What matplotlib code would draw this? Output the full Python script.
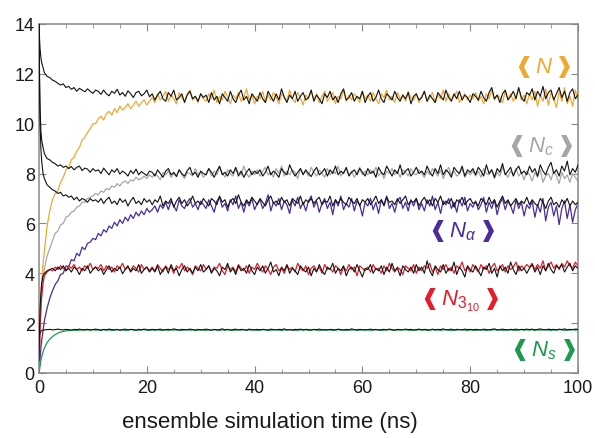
import numpy as np
import matplotlib
matplotlib.use("Agg")
import matplotlib.pyplot as plt
from matplotlib.ticker import MultipleLocator

# ---------------- data ----------------
T_EARLY = [0.0, 0.1, 0.2, 0.35, 0.5, 0.75]
T = np.concatenate([T_EARLY, np.arange(1.0, 100.51, 0.5)])  # sampling times (ns)

N_BLACK = [14.0, 13.4, 13.0, 12.65, 12.45, 12.25,
    12.05, 11.9, 11.85, 11.75, 11.7, 11.62, 11.55, 11.6, 11.45, 11.5, 11.38, 11.45, 11.3, 11.42, 11.35, 11.28, 11.4, 11.3, 11.22, 11.35,
    11.3, 11.18, 11.35, 11.2, 11.12, 11.3, 11.22, 11.38, 11.15, 11.25, 11.1, 11.32, 11.2, 11.05, 11.25, 11.3, 11.12, 11.2, 11.35, 11.08,
    11.2, 10.95, 11.15, 11.3, 11.0, 10.9, 11.25, 11.1, 11.35, 10.95, 11.05, 11.2, 10.85, 11.15, 11.3, 11.0, 11.1, 10.9, 11.2, 11.05,
    11.15, 10.85, 11.25, 10.95, 11.1, 10.8, 11.2, 11.05, 10.9, 11.3, 11.0, 10.85, 11.15, 11.35, 10.95, 11.1, 10.8, 11.2, 11.05, 10.9,
    11.25, 11.0, 10.85, 11.3, 11.1, 10.9, 11.2, 10.95, 11.4, 11.05, 10.85, 11.15, 11.0, 11.3, 10.9, 11.1, 11.25, 10.95, 11.05, 11.35,
    10.9, 11.15, 11.0, 10.8, 11.2, 11.05, 11.3, 10.95, 11.1, 10.85, 11.2, 11.4, 10.95, 11.05, 11.25, 10.9, 11.1, 11.0, 11.3, 10.85,
    11.1, 11.25, 10.9, 11.05, 11.35, 11.0, 10.85, 11.2, 11.1, 10.95, 11.3, 11.05, 10.9, 11.15, 11.0, 11.25, 10.8, 11.1, 11.2, 10.95,
    11.05, 11.3, 10.9, 11.15, 11.0, 10.85, 11.25, 11.1, 10.95, 11.35, 11.05, 10.9, 11.2, 11.0, 11.3, 10.95, 11.15, 11.05, 10.85, 11.2,
    11.1, 10.95, 11.3, 11.05, 10.9, 11.25, 11.45, 11.0, 11.15, 10.85, 11.2, 11.35, 10.95, 11.1, 11.3, 11.0, 11.45, 11.05, 10.9, 11.25,
    11.15, 11.4, 10.95, 11.3, 11.1, 11.5, 11.0, 11.25, 11.35, 10.95, 11.2, 11.45, 11.05, 11.3, 10.9, 11.25, 11.4, 11.0, 11.15, 11.3]

N_COLOR = [0.0, 1.0, 2.0, 3.0, 3.7, 4.4,
    4.9, 5.9, 6.5, 6.95, 7.2, 7.3, 7.65, 7.85, 8.15, 8.25, 8.55, 8.65, 8.9, 9.05, 9.35, 9.45, 9.65, 9.8, 10.0, 10.0,
    10.2, 10.3, 10.15, 10.4, 10.5, 10.35, 10.6, 10.45, 10.7, 10.55, 10.65, 10.8, 10.6, 10.75, 10.9, 10.7, 10.85, 10.95, 10.75, 10.9,
    11.05, 10.85, 11.2, 10.95, 11.1, 11.3, 10.9, 11.15, 11.0, 10.8, 11.25, 11.05, 10.9, 11.2, 11.35, 10.95, 11.1, 10.85, 11.2, 11.0,
    10.9, 11.2, 11.0, 11.35, 10.85, 11.1, 10.95, 11.3, 11.05, 10.8, 11.15, 11.0, 11.25, 10.9, 11.05, 11.4, 10.95, 11.15, 10.8, 11.1,
    11.0, 11.3, 10.85, 11.15, 10.95, 11.25, 11.05, 10.8, 11.2, 11.1, 10.9, 11.35, 11.0, 10.85, 11.25, 11.05, 10.75, 11.15, 11.0, 11.3,
    10.95, 11.2, 10.85, 11.1, 11.3, 10.9, 11.05, 11.25, 10.8, 11.1, 11.0, 11.35, 10.9, 11.15, 10.95, 11.2, 11.05, 10.85, 11.3, 11.0,
    11.15, 10.9, 11.25, 11.0, 10.8, 11.2, 11.05, 11.35, 10.95, 11.1, 10.85, 11.25, 11.0, 11.15, 10.9, 11.3, 11.05, 10.95, 11.2, 10.85,
    11.1, 11.3, 10.9, 11.05, 11.25, 10.85, 11.15, 11.0, 11.35, 10.9, 11.2, 10.95, 11.1, 11.3, 10.85, 11.05, 11.2, 10.95, 11.15, 11.0,
    11.25, 10.9, 11.1, 10.8, 11.2, 11.0, 11.35, 10.95, 11.15, 11.05, 10.85, 11.3, 11.0, 11.2, 10.9, 11.1, 11.4, 10.95, 11.15, 10.8,
    11.2, 10.95, 11.3, 10.7, 11.15, 10.9, 11.4, 10.75, 11.25, 11.0, 10.65, 11.3, 10.9, 11.45, 10.8, 11.1, 10.7, 11.35, 10.95, 11.2]

NC_BLACK = [14.0, 12.0, 10.6, 9.7, 9.35, 9.05,
    8.8, 8.6, 8.55, 8.45, 8.4, 8.3, 8.35, 8.25, 8.3, 8.2, 8.28, 8.15, 8.25, 8.3, 8.12, 8.22, 8.18, 8.05, 8.2, 8.1,
    8.15, 8.0, 8.22, 8.08, 7.95, 8.15, 8.05, 8.2, 7.98, 8.1, 8.02, 7.9, 8.12, 8.0, 8.18, 7.95, 8.08, 8.0, 7.92, 8.1,
    8.05, 7.9, 8.15, 8.0, 7.85, 8.1, 8.2, 7.95, 8.05, 7.88, 8.15, 8.0, 7.9, 8.12, 8.25, 7.95, 8.05, 7.85, 8.1, 8.0,
    7.95, 8.2, 8.05, 7.85, 8.1, 8.3, 7.95, 8.05, 7.9, 8.15, 8.0, 8.25, 7.9, 8.1, 7.85, 8.05, 8.2, 7.95, 8.1, 8.0,
    8.15, 7.9, 8.05, 8.3, 7.95, 8.1, 8.0, 7.85, 8.2, 8.05, 7.95, 8.35, 8.1, 7.9, 8.05, 8.2, 7.95, 8.15, 8.0, 7.88,
    8.1, 8.25, 7.95, 8.05, 8.2, 7.9, 8.15, 8.0, 8.3, 7.95, 8.1, 8.0, 8.25, 7.9, 8.05, 8.15, 7.95, 8.2, 8.05, 7.9,
    8.2, 8.0, 8.1, 7.85, 8.25, 8.05, 7.95, 8.3, 8.1, 7.9, 8.15, 8.0, 8.35, 7.95, 8.1, 8.2, 7.9, 8.05, 8.25, 8.0,
    8.1, 7.95, 8.3, 8.05, 7.9, 8.2, 8.0, 8.35, 7.95, 8.15, 8.05, 7.85, 8.25, 8.1, 8.0, 8.3, 7.9, 8.15, 8.05, 8.2,
    7.95, 8.25, 8.1, 7.9, 8.35, 8.0, 8.15, 7.85, 8.2, 8.05, 8.4, 7.95, 8.1, 8.25, 7.9, 8.15, 8.3, 8.0, 8.1, 7.95,
    8.3, 8.05, 8.2, 7.9, 8.35, 8.1, 7.95, 8.25, 8.45, 8.0, 8.15, 7.9, 8.3, 8.1, 8.5, 7.95, 8.2, 8.05, 8.35, 8.1]

NC_COLOR = [0.0, 1.0, 1.8, 2.6, 3.1, 3.7,
    4.2, 4.7, 5.0, 5.3, 5.6, 5.7, 5.95, 6.0, 6.25, 6.3, 6.45, 6.5, 6.65, 6.7, 6.85, 6.85, 7.0, 7.05, 7.1, 7.2,
    7.15, 7.3, 7.25, 7.4, 7.35, 7.5, 7.45, 7.6, 7.5, 7.65, 7.7, 7.6, 7.75, 7.7, 7.85, 7.75, 7.8, 7.9, 7.8, 7.95,
    7.85, 8.0, 7.9, 7.75, 8.05, 7.95, 8.1, 7.85, 8.0, 7.9, 8.15, 7.95, 7.8, 8.05, 8.0, 7.9, 8.2, 7.95, 8.05, 7.85,
    8.0, 8.2, 7.9, 8.1, 7.95, 8.25, 8.05, 7.85, 8.15, 8.0, 7.9, 8.2, 8.05, 7.95, 8.3, 8.0, 7.85, 8.1, 7.95, 8.15,
    7.9, 8.1, 8.25, 7.95, 8.05, 7.85, 8.2, 8.0, 8.3, 7.9, 8.1, 7.95, 8.15, 8.05, 7.8, 8.2, 8.0, 8.1, 7.9, 8.25,
    8.05, 7.9, 8.15, 8.0, 7.85, 8.2, 7.95, 8.1, 8.0, 8.3, 7.9, 8.05, 8.2, 7.95, 8.1, 7.85, 8.05, 8.25, 7.95, 8.1,
    7.95, 8.15, 8.0, 8.25, 7.9, 8.05, 7.8, 8.1, 8.0, 8.2, 7.95, 8.1, 7.85, 8.15, 8.05, 7.9, 8.2, 8.0, 7.95, 8.15,
    8.0, 7.85, 8.1, 7.95, 8.2, 8.05, 7.9, 8.15, 7.8, 8.05, 8.25, 7.95, 8.1, 7.9, 8.0, 8.2, 7.85, 8.05, 7.95, 8.1,
    7.9, 8.1, 7.85, 8.2, 8.0, 7.95, 8.15, 7.8, 8.05, 7.9, 8.25, 8.0, 7.85, 8.1, 7.95, 8.2, 7.9, 8.05, 7.75, 8.1,
    7.95, 7.7, 8.05, 7.85, 8.15, 7.65, 7.9, 8.0, 7.75, 8.1, 7.9, 7.6, 8.05, 7.8, 7.95, 7.65, 8.0, 7.85, 7.7, 7.95]

NA_BLACK = [14.0, 11.5, 10.0, 9.0, 8.5, 8.0,
    7.8, 7.55, 7.45, 7.35, 7.3, 7.2, 7.25, 7.1, 7.15, 7.05, 7.1, 6.95, 7.05, 6.9, 7.0, 6.95, 6.85, 7.0, 6.9, 6.95,
    6.85, 7.0, 6.8, 6.95, 7.05, 6.8, 6.9, 6.75, 7.0, 6.85, 6.95, 6.7, 6.9, 7.05, 6.8, 6.9, 6.75, 7.0, 6.85, 6.95,
    6.75, 6.95, 6.85, 7.1, 6.7, 6.9, 6.8, 7.0, 6.65, 6.9, 7.05, 6.8, 6.95, 6.7, 6.85, 7.1, 6.8, 6.9, 6.75, 7.0,
    6.85, 6.7, 7.0, 6.9, 6.75, 7.1, 6.85, 6.95, 6.65, 6.9, 7.0, 6.8, 7.15, 6.85, 6.7, 6.95, 6.8, 7.05, 6.9, 6.75,
    7.0, 6.85, 6.7, 6.95, 7.1, 6.8, 6.9, 6.75, 7.05, 6.85, 6.95, 6.7, 7.0, 6.9, 6.8, 7.1, 6.75, 6.95, 6.85, 7.0,
    6.8, 6.95, 7.05, 6.75, 6.9, 6.85, 7.1, 6.7, 6.95, 6.8, 7.0, 6.85, 6.75, 7.05, 6.9, 6.8, 7.0, 6.7, 6.95, 6.85,
    7.0, 6.75, 6.9, 7.1, 6.8, 6.95, 6.7, 7.05, 6.85, 6.9, 6.75, 7.0, 6.8, 6.95, 7.1, 6.75, 6.9, 6.85, 7.0, 6.7,
    6.9, 7.05, 6.8, 6.95, 6.7, 7.0, 6.85, 7.1, 6.75, 6.9, 6.8, 7.0, 6.65, 6.95, 6.85, 7.05, 6.75, 6.9, 7.0, 6.8,
    6.85, 6.7, 7.0, 6.9, 6.75, 7.05, 6.8, 6.95, 6.65, 6.9, 7.1, 6.8, 6.95, 6.7, 6.85, 7.0, 6.75, 6.9, 6.8, 7.05,
    6.75, 6.95, 6.8, 6.7, 7.0, 6.85, 6.6, 6.9, 7.05, 6.75, 6.85, 6.65, 6.95, 6.8, 7.0, 6.7, 6.9, 6.75, 6.85, 6.95]

NA_COLOR = [0.0, 0.3, 0.6, 1.0, 1.3, 1.7,
    2.1, 2.6, 3.0, 3.3, 3.55, 3.7, 3.95, 4.0, 4.3, 4.25, 4.55, 4.5, 4.8, 4.7, 5.05, 4.95, 5.2, 5.25, 5.4, 5.35,
    5.6, 5.5, 5.75, 5.65, 5.9, 5.8, 6.05, 5.9, 6.15, 6.0, 6.25, 6.1, 6.35, 6.2, 6.45, 6.3, 6.5, 6.35, 6.6, 6.45,
    6.55, 6.7, 6.45, 6.75, 6.6, 6.85, 6.55, 6.9, 6.7, 6.5, 6.95, 6.7, 6.6, 6.85, 7.0, 6.65, 6.8, 6.55, 6.9, 6.75,
    6.6, 6.95, 6.7, 6.45, 6.9, 7.05, 6.65, 6.8, 6.5, 6.95, 6.75, 7.1, 6.6, 6.85, 6.45, 6.9, 6.7, 7.0, 6.55, 6.8,
    6.95, 6.6, 6.8, 7.15, 6.5, 6.85, 6.7, 7.0, 6.55, 6.9, 6.75, 6.4, 6.95, 6.7, 7.05, 6.6, 6.85, 6.5, 6.9, 7.1,
    6.65, 6.9, 6.45, 6.8, 7.0, 6.6, 6.85, 6.35, 6.95, 6.7, 7.1, 6.55, 6.8, 6.65, 7.0, 6.5, 6.9, 6.75, 6.3, 6.85,
    6.7, 7.0, 6.55, 6.85, 6.4, 6.95, 6.75, 7.1, 6.6, 6.8, 6.45, 6.9, 7.05, 6.6, 6.85, 6.5, 6.95, 6.7, 7.0, 6.55,
    6.8, 6.5, 6.95, 6.7, 7.1, 6.55, 6.85, 6.4, 6.9, 6.75, 7.0, 6.6, 6.85, 6.45, 6.95, 6.7, 7.05, 6.5, 6.8, 6.65,
    6.9, 6.55, 6.75, 7.05, 6.45, 6.85, 6.6, 6.95, 6.35, 6.8, 7.0, 6.55, 6.9, 6.7, 6.4, 6.95, 6.6, 6.85, 6.3, 6.75,
    6.6, 6.9, 6.25, 6.75, 6.45, 7.0, 6.1, 6.65, 6.85, 6.3, 6.7, 5.95, 6.6, 6.9, 6.2, 6.75, 6.05, 6.55, 6.8, 6.35]

N310_BLACK = [0.5, 1.8, 2.6, 3.2, 3.6, 3.9,
    4.0, 4.1, 4.15, 4.2, 4.1, 4.25, 4.15, 4.3, 4.1, 4.2, 4.05, 4.25, 4.15, 3.95, 4.2, 4.1, 4.3, 4.0, 4.15, 4.25,
    4.1, 4.2, 3.95, 4.15, 4.3, 4.05, 4.2, 4.1, 4.25, 3.98, 4.15, 4.3, 4.05, 4.2, 4.1, 4.35, 4.0, 4.15, 4.25, 4.05,
    4.2, 4.05, 4.3, 3.95, 4.15, 4.25, 4.0, 4.35, 4.1, 4.2, 3.9, 4.15, 4.3, 4.05, 4.2, 4.0, 4.25, 4.1, 4.35, 4.05,
    4.15, 4.3, 4.0, 4.2, 4.1, 3.9, 4.25, 4.15, 4.4, 4.05, 4.2, 3.95, 4.3, 4.1, 4.2, 4.0, 4.35, 4.1, 3.95, 4.25,
    4.1, 4.3, 4.0, 4.2, 4.45, 4.05, 4.15, 3.9, 4.25, 4.1, 4.35, 4.0, 4.2, 4.1, 3.95, 4.3, 4.15, 4.05, 4.25, 3.9,
    4.2, 4.05, 4.35, 4.1, 3.95, 4.25, 4.15, 4.4, 4.0, 4.2, 4.1, 4.3, 3.9, 4.15, 4.25, 4.05, 4.35, 4.1, 3.85, 4.2,
    4.15, 4.35, 4.0, 4.2, 4.1, 4.3, 3.95, 4.25, 4.05, 4.4, 4.1, 4.2, 3.9, 4.3, 4.15, 4.05, 4.25, 4.0, 4.35, 4.1,
    4.25, 4.0, 4.5, 4.1, 3.9, 4.3, 4.15, 4.05, 4.35, 4.0, 4.2, 4.1, 4.45, 3.95, 4.25, 4.1, 3.85, 4.3, 4.15, 4.05,
    4.3, 4.1, 3.9, 4.25, 4.15, 4.4, 4.0, 4.2, 3.85, 4.3, 4.1, 4.25, 4.0, 4.45, 4.15, 3.95, 4.3, 4.1, 4.2, 4.0,
    4.2, 4.35, 4.05, 4.25, 3.95, 4.3, 4.1, 4.4, 4.15, 4.0, 4.3, 4.2, 4.35, 4.05, 4.25, 4.4, 4.1, 4.3, 4.2, 4.35]

N310_COLOR = [0.0, 1.0, 1.8, 2.6, 3.1, 3.6,
    3.9, 4.05, 4.15, 4.1, 4.25, 4.15, 4.3, 4.2, 4.1, 4.3, 4.2, 4.35, 4.15, 4.25, 4.1, 4.3, 4.2, 4.4, 4.15, 4.25,
    4.2, 4.35, 4.1, 4.3, 4.15, 4.25, 4.05, 4.3, 4.2, 4.4, 4.15, 4.25, 4.1, 4.3, 4.2, 4.05, 4.35, 4.15, 4.25, 4.1,
    4.25, 4.1, 4.35, 4.2, 4.05, 4.3, 4.15, 4.25, 4.0, 4.3, 4.2, 4.4, 4.1, 4.25, 4.15, 3.95, 4.3, 4.2, 4.1, 4.35,
    4.15, 4.3, 4.05, 4.25, 4.2, 4.4, 4.1, 3.95, 4.3, 4.15, 4.25, 4.05, 4.35, 4.2, 4.1, 4.3, 4.0, 4.25, 4.15, 4.4,
    4.2, 4.05, 4.3, 4.15, 3.95, 4.25, 4.35, 4.1, 4.2, 4.0, 4.3, 4.15, 4.25, 4.05, 4.4, 4.2, 4.1, 4.3, 3.95, 4.2,
    4.3, 4.1, 4.25, 4.0, 4.35, 4.15, 4.2, 4.05, 4.3, 4.2, 3.95, 4.25, 4.1, 4.35, 4.15, 4.25, 3.9, 4.3, 4.2, 4.1,
    4.25, 4.05, 4.35, 4.15, 4.2, 4.0, 4.3, 4.1, 4.4, 4.2, 4.05, 4.25, 4.15, 3.95, 4.3, 4.2, 4.1, 4.35, 4.0, 4.25,
    4.1, 4.3, 4.2, 4.4, 4.05, 4.25, 3.95, 4.3, 4.15, 4.35, 4.1, 4.25, 4.0, 4.3, 4.2, 4.45, 4.1, 4.25, 4.05, 4.35,
    4.2, 4.05, 4.35, 4.15, 4.3, 4.0, 4.25, 4.4, 4.1, 4.2, 4.35, 4.05, 4.3, 4.15, 4.25, 4.45, 4.1, 4.3, 4.2, 4.35,
    4.25, 4.4, 4.15, 4.35, 4.2, 4.5, 4.1, 4.3, 4.45, 4.2, 4.35, 4.15, 4.4, 4.25, 4.5, 4.3, 4.2, 4.45, 4.3, 4.4]

NS_BLACK = [1.45, 1.55, 1.62, 1.67, 1.7, 1.72,
    1.73, 1.74, 1.75, 1.73, 1.74, 1.76, 1.74, 1.73, 1.75, 1.74, 1.72, 1.75, 1.74, 1.76, 1.73, 1.74, 1.75, 1.73, 1.74, 1.76,
    1.74, 1.72, 1.75, 1.73, 1.76, 1.74, 1.73, 1.75, 1.72, 1.74, 1.76, 1.73, 1.75, 1.74, 1.72, 1.75, 1.73, 1.76, 1.74, 1.73,
    1.75, 1.73, 1.74, 1.76, 1.72, 1.74, 1.75, 1.73, 1.77, 1.74, 1.72, 1.75, 1.74, 1.73, 1.76, 1.74, 1.72, 1.75, 1.73, 1.74,
    1.76, 1.74, 1.72, 1.75, 1.73, 1.74, 1.77, 1.73, 1.75, 1.72, 1.74, 1.76, 1.73, 1.75, 1.74, 1.72, 1.76, 1.74, 1.73, 1.75,
    1.73, 1.75, 1.74, 1.72, 1.76, 1.74, 1.73, 1.75, 1.74, 1.77, 1.73, 1.74, 1.72, 1.75, 1.74, 1.76, 1.73, 1.75, 1.74, 1.72,
    1.75, 1.74, 1.76, 1.73, 1.74, 1.72, 1.75, 1.74, 1.73, 1.76, 1.74, 1.72, 1.75, 1.73, 1.77, 1.74, 1.73, 1.75, 1.74, 1.73,
    1.74, 1.76, 1.73, 1.75, 1.72, 1.74, 1.75, 1.73, 1.76, 1.74, 1.72, 1.75, 1.74, 1.73, 1.76, 1.74, 1.75, 1.72, 1.74, 1.76,
    1.73, 1.75, 1.74, 1.72, 1.76, 1.73, 1.75, 1.74, 1.77, 1.73, 1.74, 1.76, 1.72, 1.75, 1.74, 1.73, 1.76, 1.74, 1.75, 1.73,
    1.75, 1.74, 1.72, 1.76, 1.74, 1.73, 1.75, 1.77, 1.73, 1.74, 1.76, 1.74, 1.72, 1.75, 1.74, 1.76, 1.73, 1.75, 1.74, 1.76,
    1.74, 1.76, 1.73, 1.75, 1.77, 1.74, 1.73, 1.76, 1.74, 1.75, 1.73, 1.76, 1.74, 1.77, 1.73, 1.75, 1.74, 1.76, 1.75, 1.74]

NS_COLOR = [0.0, 0.15, 0.3, 0.5, 0.65, 0.85,
    1.0, 1.22, 1.36, 1.46, 1.54, 1.6, 1.64, 1.67, 1.69, 1.7, 1.71, 1.72, 1.71, 1.72, 1.73, 1.72, 1.73, 1.72, 1.74, 1.72,
    1.73, 1.71, 1.74, 1.72, 1.73, 1.71, 1.72, 1.74, 1.72, 1.73, 1.71, 1.72, 1.74, 1.73, 1.71, 1.72, 1.73, 1.74, 1.72, 1.71,
    1.73, 1.72, 1.74, 1.71, 1.72, 1.73, 1.71, 1.74, 1.72, 1.73, 1.72, 1.71, 1.73, 1.74, 1.72, 1.73, 1.71, 1.72, 1.74, 1.72,
    1.71, 1.73, 1.72, 1.74, 1.72, 1.71, 1.73, 1.72, 1.74, 1.73, 1.71, 1.72, 1.73, 1.72, 1.74, 1.71, 1.73, 1.72, 1.73, 1.71,
    1.72, 1.74, 1.73, 1.71, 1.72, 1.73, 1.74, 1.72, 1.71, 1.73, 1.72, 1.74, 1.73, 1.71, 1.72, 1.73, 1.72, 1.74, 1.71, 1.73,
    1.74, 1.72, 1.71, 1.73, 1.72, 1.74, 1.73, 1.71, 1.72, 1.74, 1.72, 1.73, 1.71, 1.73, 1.72, 1.74, 1.71, 1.72, 1.73, 1.72,
    1.73, 1.71, 1.72, 1.74, 1.73, 1.71, 1.72, 1.73, 1.74, 1.72, 1.71, 1.73, 1.72, 1.74, 1.73, 1.72, 1.71, 1.73, 1.72, 1.74,
    1.72, 1.73, 1.71, 1.72, 1.74, 1.72, 1.73, 1.71, 1.73, 1.74, 1.72, 1.71, 1.73, 1.72, 1.74, 1.73, 1.72, 1.71, 1.73, 1.72,
    1.71, 1.73, 1.74, 1.72, 1.71, 1.73, 1.72, 1.74, 1.72, 1.73, 1.71, 1.72, 1.74, 1.73, 1.72, 1.71, 1.73, 1.74, 1.72, 1.73,
    1.72, 1.74, 1.71, 1.73, 1.72, 1.73, 1.74, 1.72, 1.71, 1.73, 1.72, 1.74, 1.73, 1.71, 1.73, 1.72, 1.74, 1.72, 1.73, 1.72]

SERIES = [  # (black reference run, coloured run, colour, label, label x, label y)
    (N_BLACK, N_COLOR, "#F0A830", r"$\,N\,$", 93.5, 12.3),
    (NC_BLACK, NC_COLOR, "#A6A6A6", r"$\,N_c\,$", 93.0, 9.15),
    (NA_BLACK, NA_COLOR, "#4A2C9C", r"$\,N_\alpha\,$", 78.5, 5.75),
    (N310_BLACK, N310_COLOR, "#E31E2A", r"$\,N_{3_{10}}\,$", 78.0, 2.95),
    (NS_BLACK, NS_COLOR, "#1E9A4E", r"$\,N_s\,$", 93.5, 0.95),
]

X_TICKS = [0, 20, 40, 60, 80, 100]
Y_TICKS = [0, 2, 4, 6, 8, 10, 12, 14]

# ---------------- figure ----------------
plt.rcParams["font.family"] = ["Liberation Sans", "DejaVu Sans"]
plt.rcParams["mathtext.fontset"] = "custom"
plt.rcParams["mathtext.it"] = "Liberation Sans:italic"
plt.rcParams["mathtext.rm"] = "Liberation Sans"
plt.rcParams["mathtext.sf"] = "Liberation Sans"

fig = plt.figure(figsize=(5.95, 4.39), dpi=100)
ax = fig.add_axes([39 / 595, 1 - 374 / 439, (578 - 39) / 595, (374 - 25) / 439])

for blk, col, c, lab, lx, ly in SERIES:
    ax.plot(T, col, color=c, lw=0.9, zorder=2)
for blk, col, c, lab, lx, ly in SERIES:
    ax.plot(T, blk, color="#111111", lw=0.8, zorder=3)

for blk, col, c, lab, lx, ly in SERIES:
    ax.text(lx, ly, "\u2770" + lab + "\u2771", color=c, fontsize=16,
            ha="center", va="center", family="DejaVu Sans")

ax.set_xlim(0, 100)
ax.set_ylim(0, 14)
ax.set_xticks(X_TICKS)
ax.set_yticks(Y_TICKS)
ax.xaxis.set_minor_locator(MultipleLocator(5))
ax.tick_params(which="both", direction="in", top=True, right=True, colors="#888888",
               labelcolor="#1a1a1a", labelsize=13)
ax.tick_params(which="major", length=5, width=0.8)
ax.tick_params(which="minor", length=3, width=0.6)
ax.tick_params(axis="x", pad=4)
ax.tick_params(axis="y", pad=3)
for s in ax.spines.values():
    s.set_color("#888888")
    s.set_linewidth(1.1)
ax.set_xlabel("ensemble simulation time (ns)", fontsize=16, color="#1a1a1a")
ax.xaxis.set_label_coords((270 - 39) / 539, -0.11)

fig.savefig("out.png", dpi=100)
